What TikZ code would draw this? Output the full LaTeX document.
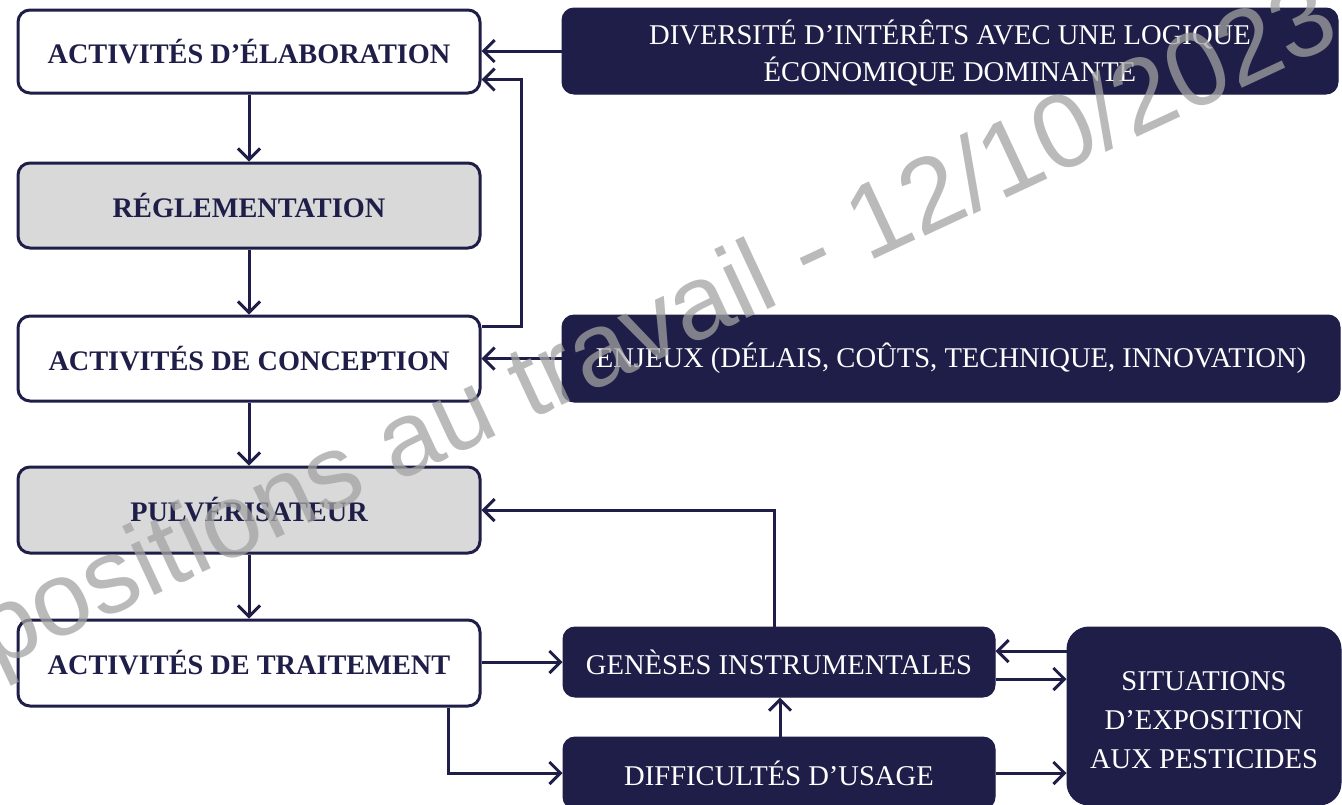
\documentclass[tikz,border=0pt]{standalone}
\usepackage{fontspec}
\setmainfont{Liberation Serif}
\newfontfamily\wmfont{Liberation Sans}
\usetikzlibrary{arrows.meta,calc}
\definecolor{navy}{RGB}{31,30,72}
\definecolor{lgray}{RGB}{217,217,217}
\definecolor{wmgray}{RGB}{163,163,163}
\begin{document}
\begin{tikzpicture}[x=1pt,y=-1pt,
  lbox/.style={draw=navy, line width=3pt, rounded corners=12pt, minimum width=462pt,
    text=navy, font=\fontsize{28.3}{34}\selectfont\bfseries, inner sep=0pt, fill=white},
  gbox/.style={lbox, fill=lgray},
  dbox/.style={fill=navy, draw=navy, line width=1pt, rounded corners=12pt, text=white,
    font=\fontsize{28.6}{37}\selectfont, align=center, inner sep=0pt},
  dtext/.style={text=white, font=\fontsize{28.6}{37}\selectfont, align=center, inner sep=0pt},
  arr/.style={draw=navy, line width=3pt, -{Straight Barb[length=11pt,width=22pt]}},
  wm/.style={rotate=25, anchor=base, font=\wmfont\fontsize{105}{105}\selectfont,
    text=wmgray, text opacity=0.74, inner sep=0pt}
]
\useasboundingbox (0,0) rectangle (1342,804);
\clip (0,0) rectangle (1342,804);
\fill[white] (0,0) rectangle (1342,804);

% left column
\node[lbox, minimum height=83pt] (b1) at (249,51.5) {ACTIVITÉS D’ÉLABORATION};
\node[gbox, minimum height=85pt] (b2) at (249,205.5) {RÉGLEMENTATION};
\node[lbox, minimum height=85pt] (b3) at (249,358.5) {ACTIVITÉS DE CONCEPTION};
\node[gbox, minimum height=86pt] (b4) at (249,510) {PULVÉRISATEUR};
\node[lbox, minimum height=86pt] (b5) at (249,663) {ACTIVITÉS DE TRAITEMENT};

% dark boxes
\node[dbox, minimum width=776pt, minimum height=86pt] (d1) at (950,51) {};
\node[dtext] (d1t) at ($(d1.center)+(0,2.5)$)
  {DIVERSITÉ D’INTÉRÊTS AVEC UNE LOGIQUE\\ÉCONOMIQUE DOMINANTE};
\node[dbox, minimum width=778pt, minimum height=87pt] (d2) at (951,358.5)
  {ENJEUX (DÉLAIS, COÛTS, TECHNIQUE, INNOVATION)};
\node[dbox, minimum width=432pt, minimum height=70pt] (g) at (779,662)
  {GENÈSES INSTRUMENTALES};
\node[dbox, minimum width=432pt, minimum height=72pt] (du) at (779,773)
  {DIFFICULTÉS D’USAGE};
\node[dbox, rounded corners=22pt, minimum width=274pt, minimum height=178pt] (s) at (1204,716) {};
\node[dtext, font=\fontsize{28.6}{39}\selectfont] (st) at ($(s.center)+(0,4)$)
  {SITUATIONS\\D’EXPOSITION\\AUX PESTICIDES};

% vertical chain
\draw[arr] (b1.south) -- (b2.north);
\draw[arr] (b2.south) -- (b3.north);
\draw[arr] (b3.south) -- (b4.north);
\draw[arr] (b4.south) -- (b5.north);

% top right inputs
\draw[arr] (d1.west) -- (d1.west -| b1.east);
\draw[arr] (d2.west) -- (d2.west -| b3.east);
\draw[arr] ($(b3.north east)+(0,12)$) -- ++(40,0) |- ($(b1.south east)+(0,-15)$);

% bottom part
\draw[arr] (b5.east |- g.west) -- (g.west);
\draw[arr] ($(b5.south)+(199,0)$) |- (du.west);
\draw[arr] ($(g.north)+(-5,0)$) |- (b4.east);
\draw[arr] ($(du.north)+(1,0)$) -- ($(g.south)+(1,0)$);
\coordinate (ga) at ($(g.east)+(0,-11)$);
\coordinate (gb) at ($(g.east)+(0,17)$);
\draw[arr] (ga -| s.west) -- (ga);
\draw[arr] (gb) -- (gb -| s.west);
\draw[arr] (du.east) -- (du.east -| s.west);

% watermark
\node[wm] (wmk) at (614,381) {Expositions au travail - 12/10/2023};
\end{tikzpicture}
\end{document}
